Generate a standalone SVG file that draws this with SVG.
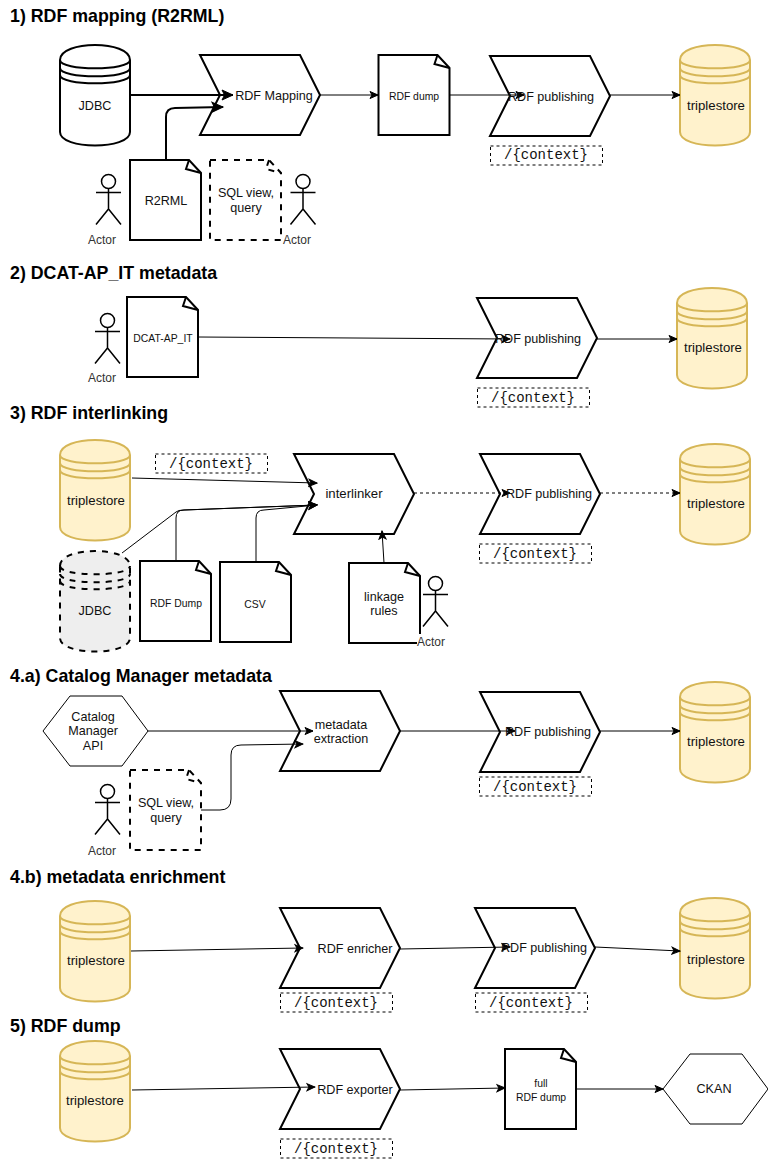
<svg xmlns="http://www.w3.org/2000/svg" xmlns:xlink="http://www.w3.org/1999/xlink" width="768" height="1159" viewBox="0 0 768 1159">
<style>
text{font-family:"Liberation Sans",Arial,sans-serif;font-size:12.6px;fill:#111;text-anchor:middle}
.t{font-size:17.8px;font-weight:bold;text-anchor:start;fill:#000}
.s{font-size:10.4px}
.a{font-size:12px;fill:#333}
.l{font-size:13.2px}
.m{font-family:"Liberation Mono","Courier New",monospace;font-size:14px}
.sh{fill:#fff;stroke:#000;stroke-width:2}
.y{fill:#fff2cc;stroke:#d6b656;stroke-width:2}
.g{fill:#eeeeee;stroke:#000;stroke-width:2;stroke-dasharray:6 6}
.d{fill:#fff;stroke:#000;stroke-width:2;stroke-dasharray:6 6}
.h{fill:#fff;stroke:#000;stroke-width:1}
.b{fill:#fff;stroke:#000;stroke-width:1;stroke-dasharray:3 3}
#conn path{fill:none;stroke:#000;stroke-width:1;marker-end:url(#arr)}
#conn path.w{stroke-width:2;marker-end:url(#arrw)}
#conn path.k{stroke-dasharray:3 3}
</style>
<defs>
<marker id="arr" markerUnits="userSpaceOnUse" markerWidth="10" markerHeight="10" refX="9" refY="5" orient="auto"><path d="M1,1.5 L9,5 L1,8.5 L3,5 Z" fill="#000" stroke="#000" stroke-width="1"/></marker>
<marker id="arrw" markerUnits="userSpaceOnUse" markerWidth="14" markerHeight="14" refX="12" refY="7" orient="auto"><path d="M1,2 L12,7 L1,12 L3.5,7 Z" fill="#000" stroke="#000" stroke-width="1"/></marker>
<g id="cyl"><path d="M0,15 C0,-5 70,-5 70,15 L70,87 C70,105 0,105 0,87 Z"/><path fill="none" d="M0,15 C0,26 70,26 70,15 M0,23 C0,34 70,34 70,23 M0,30 C0,41 70,41 70,30"/></g>
<path id="step" d="M0,0 L100,0 L120,40 L100,80 L0,80 L20,40 Z"/>
<g id="doc"><path d="M0,0 L59,0 L71,13 L71,80 L0,80 Z"/><path fill="none" d="M59,0 L56,9 L71,13"/></g>
<g id="actor" fill="none" stroke="#000" stroke-width="1.500"><circle cx="12.500" cy="7.500" r="7"/><path d="M12.500,14.500 L12.500,35 M0,18.500 L25,18.500 M0,50.500 L12.500,35 L25,50.500"/></g>
<path id="hex" d="M0,35 L27,0 L79,0 L105,35 L79,70 L27,70 Z"/>
<rect id="ctx" width="112" height="19"/>
</defs>
<rect width="768" height="1159" fill="#fff"/>
<text class="t" x="10" y="22">1) RDF mapping (R2RML)</text>
<text class="t" x="10" y="279">2) DCAT-AP_IT metadata</text>
<text class="t" x="10" y="419">3) RDF interlinking</text>
<text class="t" x="10" y="682">4.a) Catalog Manager metadata</text>
<text class="t" x="10" y="883">4.b) metadata enrichment</text>
<text class="t" x="10" y="1032">5) RDF dump</text>

<g id="n1"><use href="#cyl" class="sh" x="60" y="45"/><text x="95" y="110">JDBC</text></g>
<g id="n2"><use href="#step" class="sh" x="200" y="55"/></g>
<g id="n3"><use href="#doc" class="sh" x="378.500" y="55"/><text class="s" x="414" y="100">RDF dump</text></g>
<g id="n4"><use href="#step" class="sh" x="490" y="56"/></g>
<g id="n5"><use href="#ctx" class="b" x="490.500" y="146"/><text class="m" x="546" y="159">/{context}</text></g>
<g id="n6"><use href="#cyl" class="y" x="680" y="45"/><text class="l" x="716" y="110">triplestore</text></g>
<g id="n7"><use href="#actor" x="96" y="174"/><text class="a" x="102" y="244">Actor</text></g>
<g id="n8"><use href="#doc" class="sh" x="130" y="160"/><text x="166" y="205">R2RML</text></g>
<g id="n9"><use href="#doc" class="d" x="210" y="160"/><text x="246" y="197">SQL view,</text><text x="246" y="212">query</text></g>
<g id="n10"><use href="#actor" x="290.500" y="174"/><text class="a" x="297" y="244">Actor</text></g>

<g id="n11"><use href="#actor" x="95" y="313"/><text class="a" x="102" y="382">Actor</text></g>
<g id="n12"><use href="#doc" class="sh" x="127" y="297"/><text class="s" x="163" y="342">DCAT-AP_IT</text></g>
<g id="n13"><use href="#step" class="sh" x="477" y="298"/></g>
<g id="n14"><use href="#ctx" class="b" x="477.500" y="388"/><text class="m" x="533" y="402">/{context}</text></g>
<g id="n15"><use href="#cyl" class="y" x="677" y="288"/><text class="l" x="713" y="352">triplestore</text></g>

<g id="n16"><use href="#cyl" class="y" x="60" y="440"/><text class="l" x="96" y="505">triplestore</text></g>
<g id="n17"><use href="#ctx" class="b" x="155.500" y="454"/><text class="m" x="211" y="468">/{context}</text></g>
<g id="n18"><use href="#step" class="sh" x="294" y="454"/><text class="l" x="354" y="498">interlinker</text></g>
<g id="n19"><use href="#cyl" class="g" x="60" y="551"/><text x="95" y="615">JDBC</text></g>
<g id="n20"><use href="#doc" class="sh" x="140" y="561"/><text class="s" x="176" y="607">RDF Dump</text></g>
<g id="n21"><use href="#doc" class="sh" x="220" y="562"/><text class="s" x="255" y="608">CSV</text></g>
<g id="n22"><use href="#doc" class="sh" x="349" y="563"/><text x="384" y="601">linkage</text><text x="384" y="615">rules</text></g>
<g id="n23"><use href="#actor" x="423" y="576"/><rect x="417" y="634" width="30" height="13" fill="#fff"/><text class="a" x="431" y="646">Actor</text></g>
<g id="n24"><use href="#step" class="sh" x="480" y="454"/></g>
<g id="n25"><use href="#ctx" class="b" x="479.500" y="544"/><text class="m" x="535" y="558">/{context}</text></g>
<g id="n26"><use href="#cyl" class="y" x="680" y="444"/><text class="l" x="716" y="508">triplestore</text></g>

<g id="n27"><use href="#hex" class="h" x="43" y="696"/><text x="93" y="721">Catalog</text><text x="93" y="735">Manager</text><text x="93" y="750">API</text></g>
<g id="n28"><use href="#step" class="sh" x="280" y="691"/><text x="341" y="729">metadata</text><text x="341" y="743">extraction</text></g>
<g id="n29"><use href="#actor" x="95" y="784"/><text class="a" x="102" y="855">Actor</text></g>
<g id="n30"><use href="#doc" class="d" x="130" y="770"/><text x="166" y="807">SQL view,</text><text x="166" y="822">query</text></g>
<g id="n31"><use href="#step" class="sh" x="480" y="692"/></g>
<g id="n32"><use href="#ctx" class="b" x="479.500" y="777"/><text class="m" x="535" y="791">/{context}</text></g>
<g id="n33"><use href="#cyl" class="y" x="680" y="682"/><text class="l" x="716" y="746">triplestore</text></g>

<g id="n34"><use href="#cyl" class="y" x="60" y="901"/><text class="l" x="96" y="965">triplestore</text></g>
<g id="n35"><use href="#step" class="sh" x="280" y="908"/><text x="355" y="953">RDF enricher</text></g>
<g id="n36"><use href="#ctx" class="b" x="280.500" y="993"/><text class="m" x="336" y="1007">/{context}</text></g>
<g id="n37"><use href="#step" class="sh" x="475" y="908"/></g>
<g id="n38"><use href="#ctx" class="b" x="475.500" y="993"/><text class="m" x="531" y="1007">/{context}</text></g>
<g id="n39"><use href="#cyl" class="y" x="680" y="898"/><text class="l" x="716" y="964">triplestore</text></g>

<g id="n40"><use href="#cyl" class="y" x="60" y="1041"/><text class="l" x="95" y="1105">triplestore</text></g>
<g id="n41"><use href="#step" class="sh" x="280" y="1049"/><text x="355" y="1094">RDF exporter</text></g>
<g id="n42"><use href="#ctx" class="b" x="280.500" y="1139"/><text class="m" x="336" y="1153">/{context}</text></g>
<g id="n43"><use href="#doc" class="sh" x="505" y="1049"/><text class="s" x="541" y="1087">full</text><text class="s" x="541" y="1101">RDF dump</text></g>
<g id="n44"><use href="#hex" class="h" x="663" y="1054"/><text x="714" y="1093">CKAN</text></g>

<g id="conn">
<path class="w" d="M131,95 L233,95"/>
<path class="w" d="M166,160 L166,117 Q166,108 175,108 L223,107"/>
<path d="M320,95 L378,95"/>
<path d="M449,95 L524,95"/>
<path d="M610,95 L680,95"/>
<path d="M198,337 L510,339"/>
<path d="M597,339 L677,339"/>
<path d="M132,478 L317,483"/>
<path d="M122,553 L176,512 Q178,510 184,510 L317,505"/>
<path d="M176,561 L176,518 Q176,510 184,510 L317,505"/>
<path d="M256,562 L256,518 Q256,510 264,510 L317,505"/>
<path d="M384,563 L382,531"/>
<path class="k" d="M414,493 L510,493"/>
<path class="k" d="M600,493 L680,493"/>
<path d="M148,731 L313,731"/>
<path d="M201,810 L220,810 Q231,810 231,799 L231,755 Q231,745 241,745 L303,744"/>
<path d="M400,731 L515,731"/>
<path d="M600,731 L680,731"/>
<path d="M131,951 L303,948"/>
<path d="M400,949 L510,947"/>
<path d="M595,947 L680,951"/>
<path d="M132,1090 L315,1087"/>
<path d="M400,1090 L505,1088"/>
<path d="M575,1089 L663,1089"/>
</g>
<g id="labels">
<text x="274" y="100">RDF Mapping</text>
<text x="551" y="101">RDF publishing</text>
<text x="538" y="343">RDF publishing</text>
<text x="549" y="498">RDF publishing</text>
<text x="548" y="736">RDF publishing</text>
<text x="544" y="952">RDF publishing</text>
</g>
</svg>
